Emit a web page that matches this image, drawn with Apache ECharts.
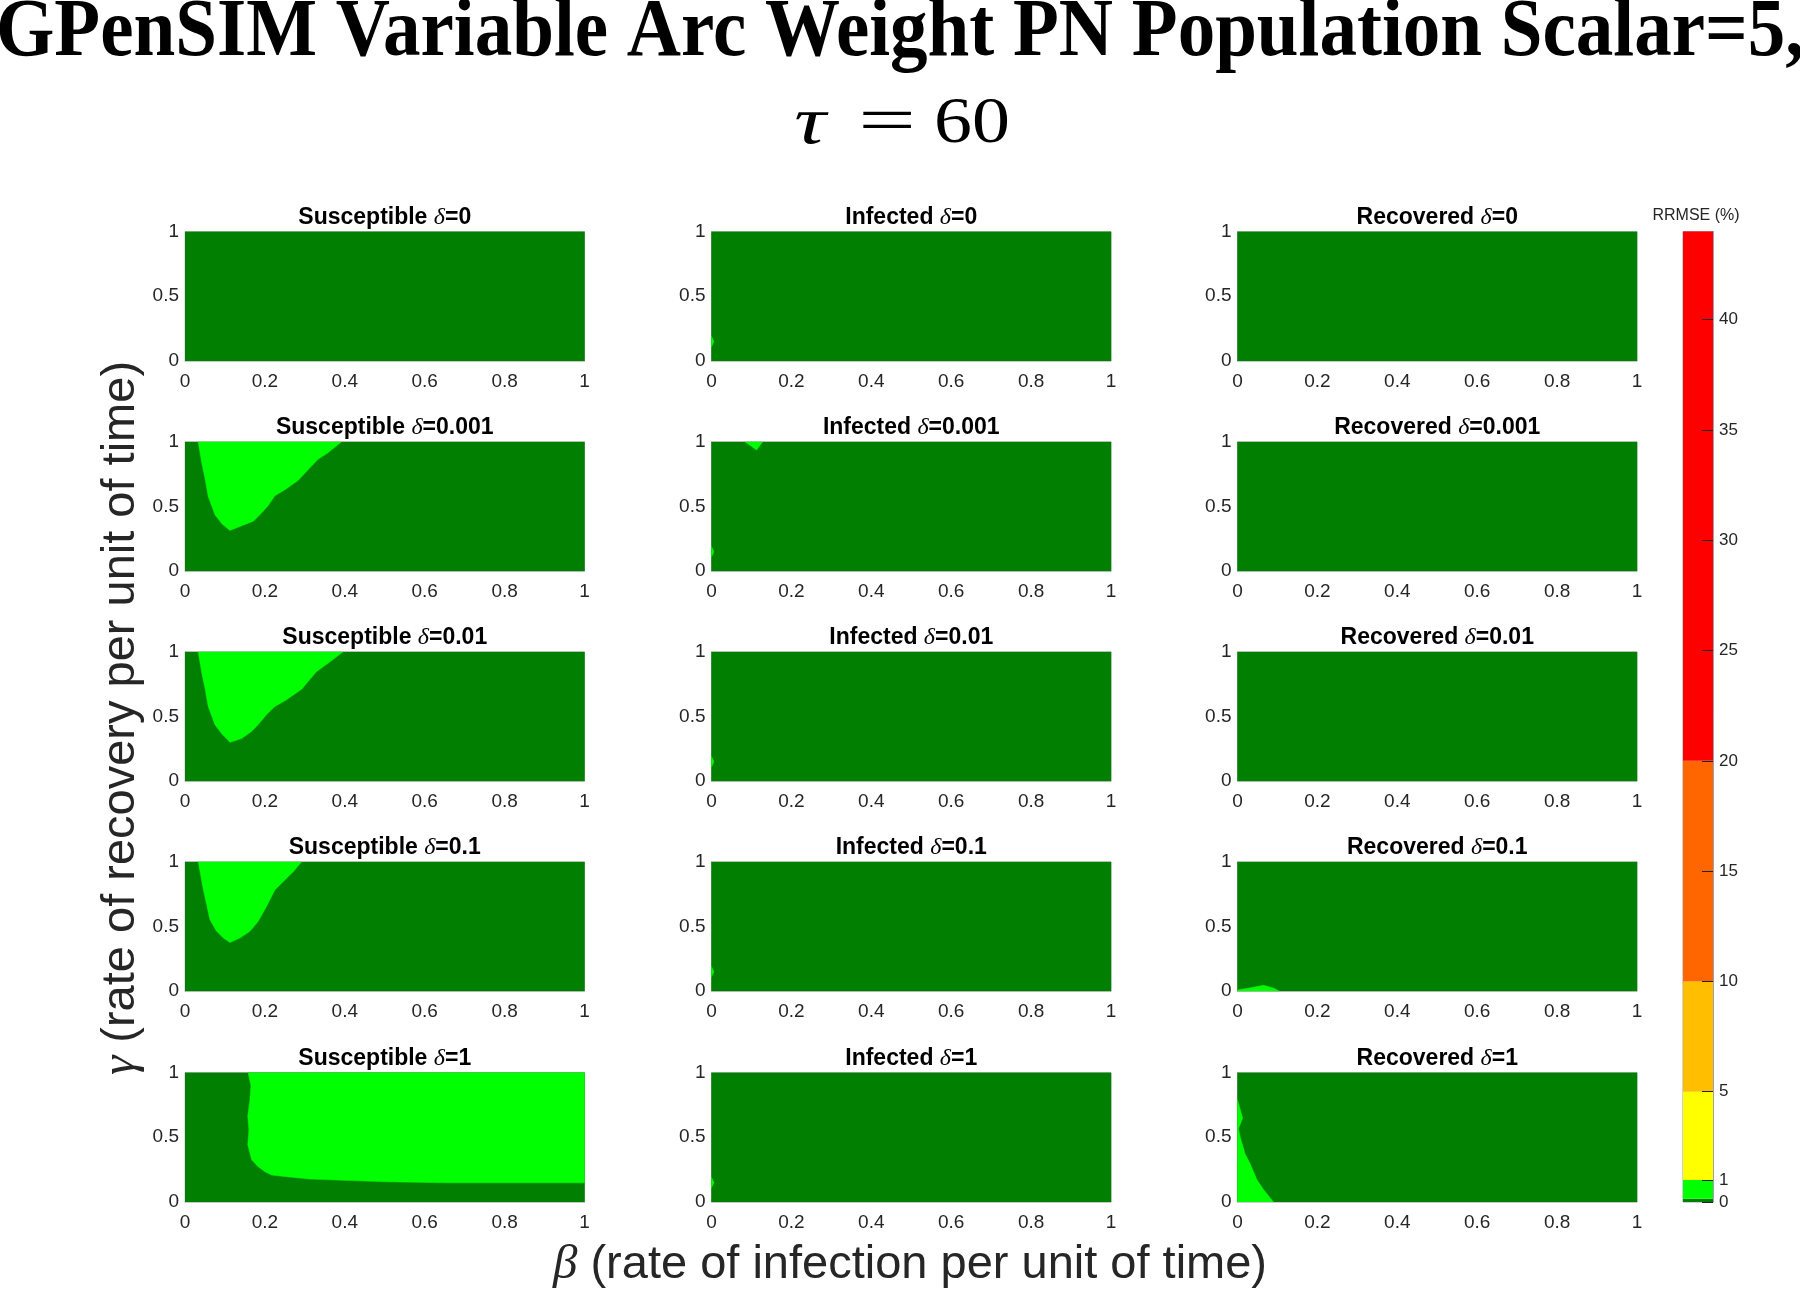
<!DOCTYPE html>
<html>
<head>
<meta charset="utf-8">
<script src="https://cdn.jsdelivr.net/npm/echarts@6/dist/echarts.min.js"></script>
<style>
  html, body { margin: 0; padding: 0; background: #fff; }
  #main { width: 1800px; height: 1290px; }
</style>
</head>
<body>
<div id="main"></div>
<script>
// RRMSE (%) contour bands, as on the colorbar
const bandLo = [0, 0.15, 1, 5, 10, 20];
const bandHi = [0.15, 1, 5, 10, 20, 44];
const bandColors = ["#007f00", "#00ff00", "#ffff00", "#ffbf00", "#ff6600", "#ff0000"];
const cbTicks = [0, 1, 5, 10, 15, 20, 25, 30, 35, 40];

const compartments = ["Susceptible", "Infected", "Recovered"];
const deltas = ["0", "0.001", "0.01", "0.1", "1"];

// whole (beta, gamma) domain -> lowest band
const fullDomain = [[0, 0], [1, 0], [1, 1], [0, 1]];

// boundaries of the light green (band 0.15-1 %) regions
const suscD0001 = [[0.033, 1], [0.042, 0.833], [0.05, 0.718], [0.058, 0.577], [0.075, 0.436], [0.092, 0.367],
  [0.1125, 0.315], [0.142, 0.351], [0.171, 0.385], [0.1875, 0.436], [0.208, 0.505], [0.225, 0.582],
  [0.25, 0.628], [0.283, 0.7], [0.304, 0.769], [0.333, 0.864], [0.358, 0.915], [0.392, 1]];
const suscD001 = [[0.033, 1], [0.042, 0.833], [0.05, 0.718], [0.058, 0.577], [0.075, 0.436], [0.092, 0.367],
  [0.1125, 0.3], [0.142, 0.33], [0.167, 0.385], [0.183, 0.436], [0.204, 0.513], [0.225, 0.577],
  [0.254, 0.628], [0.292, 0.71], [0.329, 0.846], [0.358, 0.91], [0.396, 1]];
const suscD01 = [[0.033, 1], [0.046, 0.782], [0.0625, 0.551], [0.079, 0.462], [0.096, 0.41], [0.1125, 0.377],
  [0.1375, 0.41], [0.1625, 0.462], [0.183, 0.538], [0.204, 0.654], [0.225, 0.782], [0.25, 0.859],
  [0.271, 0.923], [0.292, 1]];
const suscD1 = [[0.158, 1], [0.165, 0.896], [0.1625, 0.792], [0.157, 0.662], [0.16, 0.558], [0.157, 0.442],
  [0.167, 0.325], [0.183, 0.273], [0.2, 0.234], [0.217, 0.208], [0.254, 0.195], [0.3125, 0.177],
  [0.379, 0.169], [0.504, 0.156], [0.654, 0.148], [1, 0.148], [1, 1]];
const infEdge = [[0, 0.11], [0.006, 0.15], [0, 0.19]];
const infD0001Top = [[0.0835, 1], [0.113, 0.935], [0.128, 1]];
const recD01 = [[0, 0], [0, 0.01], [0.03, 0.025], [0.065, 0.045], [0.09, 0.025], [0.105, 0]];
const recD1 = [[0, 0.79], [0.013, 0.647], [0.0025, 0.568], [0.0067, 0.503], [0.019, 0.372], [0.032, 0.293],
  [0.048, 0.175], [0.065, 0.097], [0.09, 0], [0, 0]];

// rows = delta, cols = compartment
const lightRegions = [
  [[], [infEdge], []],
  [[suscD0001], [infEdge, infD0001Top], []],
  [[suscD001], [infEdge], []],
  [[suscD01], [infEdge], [recD01]],
  [[suscD1], [infEdge], [recD1]],
];

// layout
const colLeft = [185, 711.5, 1237.5];
const rowTop = [231.5, 441.7, 651.7, 861.7, 1072.5];
const panelW = 399.5, panelH = 129.5;

const chart = echarts.init(document.getElementById("main"));

const grids = [], xAxes = [], yAxes = [], series = [], graphics = [];
const tickFont = { fontSize: 19, color: "#262626", fontFamily: "Liberation Sans" };

deltas.forEach((d, r) => {
  compartments.forEach((c, k) => {
    const gi = grids.length;
    grids.push({ left: colLeft[k], top: rowTop[r], width: panelW, height: panelH,
      show: true, borderColor: "#c8c8c8", borderWidth: 1, backgroundColor: "transparent" });
    xAxes.push({ gridIndex: gi, type: "value", min: 0, max: 1, interval: 0.2,
      axisLabel: Object.assign({ margin: 11 }, tickFont),
      axisLine: { show: true, lineStyle: { color: "#c8c8c8" } },
      axisTick: { show: false }, splitLine: { show: false } });
    yAxes.push({ gridIndex: gi, type: "value", min: 0, max: 1, interval: 0.5,
      axisLabel: Object.assign({ margin: 6 }, tickFont),
      axisLine: { show: true, lineStyle: { color: "#c8c8c8" } },
      axisTick: { show: false }, splitLine: { show: false } });

    const regs = [{ band: 0, pts: fullDomain }].concat(
      lightRegions[r][k].map(p => ({ band: 1, pts: p })));
    series.push({
      type: "custom", xAxisIndex: gi, yAxisIndex: gi, clip: true, silent: true,
      data: regs.map(g => g.pts[0]),
      renderItem: (params, api) => {
        const g = regs[params.dataIndex];
        return { type: "polygon", shape: { points: g.pts.map(p => api.coord(p)) },
          style: { fill: bandColors[g.band], stroke: bandColors[g.band], lineWidth: 0.5 } };
      }
    });

    graphics.push({ type: "text", x: colLeft[k] + panelW / 2, y: rowTop[r] - 14,
      style: { text: "{b|" + c + " }{d|δ}{b|=" + d + "}", align: "center", verticalAlign: "middle",
        textAlign: "center", textVerticalAlign: "middle",
        rich: { b: { font: 'bold 23px "Liberation Sans"', fill: "#000" },
                d: { font: 'italic 24px "Liberation Serif"', fill: "#000" } } } });
  });
});

// colorbar
const cb = grids.length;
grids.push({ left: 1683, top: 231.5, width: 30, height: 970.5, show: true, borderColor: "#a0a0b0", borderWidth: 1 });
xAxes.push({ gridIndex: cb, type: "value", min: 0, max: 1, show: false });
yAxes.push({ gridIndex: cb, type: "value", min: 0, max: 44, position: "right", z: 10,
  axisLine: { show: true, onZero: false, lineStyle: { color: "#a0a0b0" } },
  axisTick: { show: true, inside: true, length: 11, customValues: cbTicks, lineStyle: { color: "#222", width: 1 } },
  axisLabel: { customValues: cbTicks, fontSize: 17, color: "#262626", margin: 6, fontFamily: "Liberation Sans" },
  splitLine: { show: false } });
series.push({
  type: "custom", xAxisIndex: cb, yAxisIndex: cb, silent: true, z: 1,
  data: bandLo.map(lo => [0, lo]),
  renderItem: (params, api) => {
    const i = params.dataIndex;
    const p0 = api.coord([0, bandLo[i]]), p1 = api.coord([1, bandHi[i]]);
    return { type: "rect", shape: { x: p0[0], y: p1[1], width: p1[0] - p0[0], height: p0[1] - p1[1] },
      style: { fill: bandColors[i] } };
  }
});

const mid = { align: "center", verticalAlign: "middle", textAlign: "center", textVerticalAlign: "middle" };
graphics.push(
  { type: "text", x: 1696, y: 216,
    style: Object.assign({ text: "RRMSE (%)", font: '16px "Liberation Sans"', fill: "#262626" }, mid) },
  { type: "text", x: 900, y: 34, scaleX: 0.915,
    style: Object.assign({ text: "GPenSIM Variable Arc Weight PN Population Scalar=5,",
      font: 'bold 82px "Liberation Serif"', fill: "#000" }, mid) },
  // second title line: tau = 60
  { type: "text", x: 810, y: 125, scaleX: 1.3,
    style: Object.assign({ text: "τ", font: 'italic 68px "Liberation Serif"', fill: "#000" }, mid) },
  { type: "text", x: 887, y: 125, scaleX: 1.55,
    style: Object.assign({ text: "=", font: '66px "Liberation Serif"', fill: "#000" }, mid) },
  { type: "text", x: 972, y: 125, scaleX: 1.15,
    style: Object.assign({ text: "60", font: '66px "Liberation Serif"', fill: "#000" }, mid) },
  { type: "text", x: 121, y: 718, rotation: Math.PI / 2,
    style: Object.assign({ text: "{g|γ} (rate of recovery per unit of time)", font: '47px "Liberation Sans"', fill: "#262626",
      rich: { g: { font: 'italic 49px "Liberation Serif"', fill: "#262626" } } }, mid) },
  { type: "text", x: 910, y: 1265,
    style: Object.assign({ text: "{g|β} (rate of infection per unit of time)", font: '47px "Liberation Sans"', fill: "#262626",
      rich: { g: { font: 'italic 49px "Liberation Serif"', fill: "#262626" } } }, mid) }
);

chart.setOption({
  animation: false,
  grid: grids,
  xAxis: xAxes,
  yAxis: yAxes,
  series: series,
  graphic: graphics
});
</script>
</body>
</html>
